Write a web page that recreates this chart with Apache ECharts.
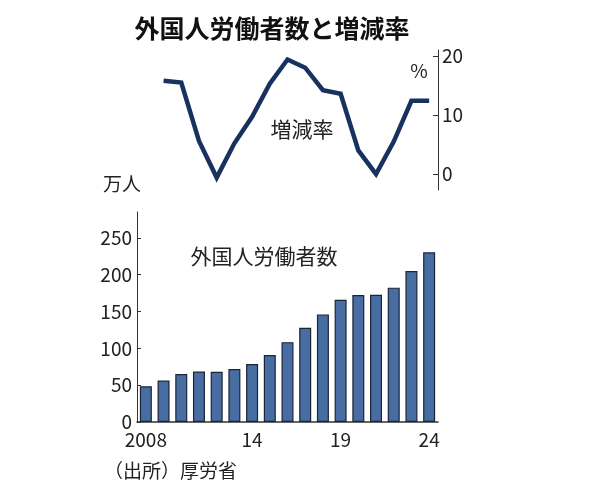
<!DOCTYPE html>
<html>
<head>
<meta charset="utf-8">
<script src="https://cdn.jsdelivr.net/npm/echarts@6/dist/echarts.min.js"></script>
<style>
  html, body { margin: 0; padding: 0; background: #fff; }
  #chart { width: 594px; height: 491px; }
</style>
</head>
<body>
<div id="chart"></div>
<script>
// 年（2008〜2024）
var years = ['2008', '2009', '2010', '2011', '2012', '2013', '2014', '2015', '2016',
  '2017', '2018', '2019', '2020', '2021', '2022', '2023', '2024']
// 外国人労働者数（万人）
var workers = [48.6, 56.3, 65.0, 68.6, 68.2, 71.8, 78.8, 90.8, 108.4,
  127.9, 146.0, 165.9, 172.4, 172.7, 182.3, 204.9, 230.3]
// 増減率（%）、2008年はなし
var rates = [null, 15.8, 15.5, 5.6, -0.6, 5.2, 9.7, 15.3, 19.4,
  18.0, 14.2, 13.6, 4.0, 0.0, 5.5, 12.4, 12.4]
var xLabels = ['2008', '14', '19', '24']
var leftTicks = [0, 50, 100, 150, 200, 250]
var rightTicks = [0, 10, 20]

var FONT = "'Noto Sans CJK JP', 'Noto Sans', sans-serif"
var AXIS_COLOR = '#333'

var myChart = echarts.init(document.getElementById('chart'))

function shortYear(v) {
  return v === '2008' ? v : v.slice(2)
}

var option = {
  backgroundColor: '#fff',
  animation: false,
  grid: [
    { left: 137, right: 156, top: 50, height: 140 },
    { left: 137, right: 156, top: 212, height: 210 },
  ],
  xAxis: [
    {
      type: 'category',
      gridIndex: 0,
      data: years,
      show: false,
    },
    {
      type: 'category',
      gridIndex: 1,
      data: years,
      axisLine: { lineStyle: { color: AXIS_COLOR, width: 1.5 } },
      axisTick: { show: false },
      axisLabel: {
        interval: function (index, value) {
          return xLabels.indexOf(shortYear(value)) >= 0
        },
        formatter: shortYear,
        color: '#222',
        fontSize: 19,
        fontFamily: FONT,
        margin: 8,
      },
    },
  ],
  yAxis: [
    {
      type: 'value',
      gridIndex: 0,
      position: 'right',
      min: -2.7,
      max: 21,
      splitLine: { show: false },
      axisLine: { show: true, lineStyle: { color: AXIS_COLOR } },
      axisTick: { show: true, inside: true, length: 5, customValues: rightTicks, lineStyle: { color: AXIS_COLOR } },
      axisLabel: { customValues: rightTicks, color: '#222', fontSize: 19, fontFamily: FONT, margin: 4 },
    },
    {
      type: 'value',
      gridIndex: 1,
      position: 'left',
      min: 0,
      max: 285,
      splitLine: { show: false },
      axisLine: { show: true, lineStyle: { color: AXIS_COLOR } },
      axisTick: { show: true, inside: true, length: 4, customValues: leftTicks, lineStyle: { color: AXIS_COLOR } },
      axisLabel: { customValues: leftTicks, color: '#222', fontSize: 19, fontFamily: FONT, margin: 5 },
    },
  ],
  series: [
    {
      name: '増減率',
      type: 'line',
      xAxisIndex: 0,
      yAxisIndex: 0,
      data: rates,
      symbol: 'none',
      clip: false,
      lineStyle: { color: '#17325f', width: 4.5, join: 'miter' },
    },
    {
      name: '外国人労働者数',
      type: 'bar',
      xAxisIndex: 1,
      yAxisIndex: 1,
      data: workers,
      barWidth: 12,
      itemStyle: { color: '#476da2', borderColor: '#1a2638', borderWidth: 1.2 },
    },
  ],
  graphic: [
    {
      type: 'text', x: 272, y: 28,
      style: { text: '外国人労働者数と増減率', fill: '#111', fontSize: 25, fontWeight: 'bold', fontFamily: FONT, align: 'center', verticalAlign: 'middle' },
    },
    {
      type: 'text', x: 419, y: 71,
      style: { text: '%', fill: '#222', fontSize: 19, fontFamily: FONT, align: 'center', verticalAlign: 'middle' },
    },
    {
      type: 'text', x: 302, y: 129,
      style: { text: '増減率', fill: '#222', fontSize: 21, fontFamily: FONT, align: 'center', verticalAlign: 'middle' },
    },
    {
      type: 'text', x: 103, y: 184,
      style: { text: '万人', fill: '#222', fontSize: 19, fontFamily: FONT, align: 'left', verticalAlign: 'middle' },
    },
    {
      type: 'text', x: 264, y: 256,
      style: { text: '外国人労働者数', fill: '#222', fontSize: 21, fontFamily: FONT, align: 'center', verticalAlign: 'middle' },
    },
    {
      type: 'text', x: 104, y: 471,
      style: { text: '（出所）厚労省', fill: '#222', fontSize: 19, fontFamily: FONT, align: 'left', verticalAlign: 'middle' },
    },
  ],
}

myChart.setOption(option)
</script>
</body>
</html>
